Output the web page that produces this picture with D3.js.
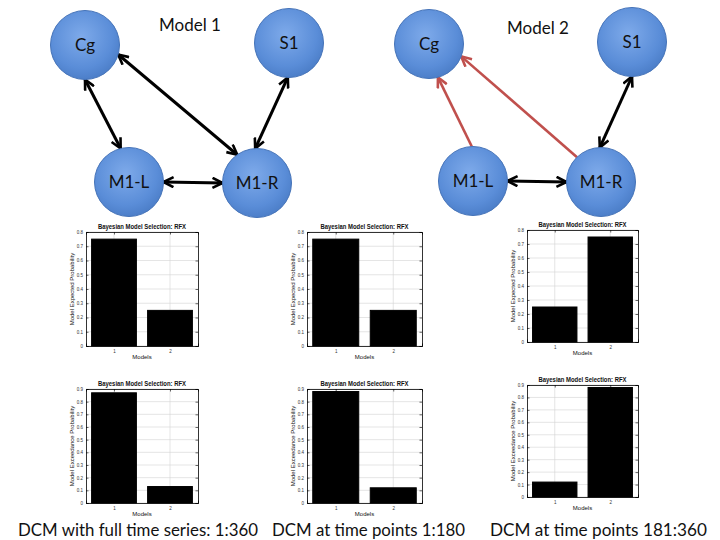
<!DOCTYPE html>
<html><head><meta charset="utf-8">
<script src="https://cdn.jsdelivr.net/npm/d3@7"></script>
<style>body{margin:0;background:#fff}svg{display:block}</style>
</head><body>
<svg id="c" width="720" height="540"></svg>
<script>
// ---------- data ----------
const modelTitles = ["Model 1", "Model 2"];
const nodeNames = ["Cg", "S1", "M1-L", "M1-R"];
// edges: [source, target, bidirectional, highlighted]
const model1Edges = [
  ["Cg", "M1-L", true, false],
  ["Cg", "M1-R", true, false],
  ["S1", "M1-R", true, false],
  ["M1-L", "M1-R", true, false]
];
const model2Edges = [
  ["M1-L", "Cg", false, true],
  ["M1-R", "Cg", false, true],
  ["S1", "M1-R", true, false],
  ["M1-L", "M1-R", true, false]
];
const models = ["1", "2"];
const expectedFull = [0.75, 0.25];
const exceedFull = [0.87, 0.13];
const expectedEarly = [0.75, 0.25];
const exceedEarly = [0.88, 0.12];
const expectedLate = [0.25, 0.75];
const exceedLate = [0.12, 0.88];
const expectedTicks = [0, 0.1, 0.2, 0.3, 0.4, 0.5, 0.6, 0.7, 0.8];
const exceedTicks = [0, 0.1, 0.2, 0.3, 0.4, 0.5, 0.6, 0.7, 0.8, 0.9];
const chartTitle = "Bayesian Model Selection: RFX";
const xLabel = "Models";
const yLabelExpected = "Model Expected Probability";
const yLabelExceed = "Model Exceedance Probability";
const captions = ["DCM with full time series: 1:360", "DCM at time points 1:180", "DCM at time points 181:360"];

// ---------- layout ----------
const svg = d3.select("#c");
const defs = svg.append("defs");
const grad = defs.append("radialGradient").attr("id", "nodeGrad")
  .attr("cx", "45%").attr("cy", "38%").attr("r", "65%");
grad.append("stop").attr("offset", "0%").attr("stop-color", "#7eaaea");
grad.append("stop").attr("offset", "70%").attr("stop-color", "#5a8dd8");
grad.append("stop").attr("offset", "100%").attr("stop-color", "#4a7cc6");

function marker(id, color) {
  defs.append("marker").attr("id", id)
    .attr("viewBox", "0 0 12 12").attr("refX", 11).attr("refY", 6)
    .attr("markerWidth", 12).attr("markerHeight", 12)
    .attr("markerUnits", "userSpaceOnUse").attr("orient", "auto-start-reverse")
    .append("path").attr("d", "M1,1 L11,6 L1,11")
    .attr("fill", "none").attr("stroke", color).attr("stroke-width", 2.6)
    .attr("stroke-linejoin", "miter");
}
marker("arrBlack", "#000");
marker("arrRed", "#c0504d");

const diagrams = [
  { title: modelTitles[0], titlePos: [190, 31], edges: model1Edges,
    pos: { "Cg": [85, 45], "S1": [289, 43], "M1-L": [129, 182], "M1-R": [257, 183] },
    ports: [[90, -104], [16, -125], [92, -93], [0, 180]] },
  { title: modelTitles[1], titlePos: [538, 34], edges: model2Edges,
    pos: { "Cg": [429, 44], "S1": [632, 42], "M1-L": [473, 181], "M1-R": [601, 182] },
    ports: [[-92, 75], [-134, 21], [90, -92], [0, 180]] }
];
const R = 34.5;

diagrams.forEach(dg => {
  svg.append("text").attr("x", dg.titlePos[0]).attr("y", dg.titlePos[1])
    .attr("text-anchor", "middle").attr("font-family", "Lato, 'Open Sans', sans-serif")
    .attr("font-size", 17).attr("fill", "#111").text(dg.title);
  dg.edges.forEach((e, i) => {
    const s = dg.pos[e[0]], t = dg.pos[e[1]];
    const a1 = dg.ports[i][0] * Math.PI / 180, a2 = dg.ports[i][1] * Math.PI / 180;
    const p1 = [s[0] + R * Math.cos(a1), s[1] + R * Math.sin(a1)];
    const p2 = [t[0] + R * Math.cos(a2), t[1] + R * Math.sin(a2)];
    const col = e[3] ? "#c0504d" : "#000";
    const m = e[3] ? "url(#arrRed)" : "url(#arrBlack)";
    const ln = svg.append("line").attr("x1", p1[0]).attr("y1", p1[1])
      .attr("x2", p2[0]).attr("y2", p2[1])
      .attr("stroke", col).attr("stroke-width", e[3] ? 2.6 : 3)
      .attr("marker-end", m);
    if (e[2]) ln.attr("marker-start", m);
  });
  nodeNames.forEach(n => {
    const p = dg.pos[n];
    svg.append("circle").attr("cx", p[0]).attr("cy", p[1]).attr("r", R)
      .attr("fill", "url(#nodeGrad)").attr("stroke", "#4573b8").attr("stroke-width", 1);
    svg.append("text").attr("x", p[0]).attr("y", p[1] + 6)
      .attr("text-anchor", "middle").attr("font-family", "Lato, 'Open Sans', sans-serif")
      .attr("font-size", 17).attr("fill", "#111").text(n);
  });
});

// ---------- bar charts ----------
const panels = [
  { x0: 86, x1: 198, y0: 232, y1: 346, vals: expectedFull, ticks: expectedTicks, yl: yLabelExpected },
  { x0: 86, x1: 198, y0: 389, y1: 503, vals: exceedFull, ticks: exceedTicks, yl: yLabelExceed },
  { x0: 307, x1: 422, y0: 232, y1: 346, vals: expectedEarly, ticks: expectedTicks, yl: yLabelExpected },
  { x0: 307, x1: 422, y0: 389, y1: 503, vals: exceedEarly, ticks: exceedTicks, yl: yLabelExceed },
  { x0: 527, x1: 638, y0: 230, y1: 342, vals: expectedLate, ticks: expectedTicks, yl: yLabelExpected },
  { x0: 527, x1: 638, y0: 385, y1: 497, vals: exceedLate, ticks: exceedTicks, yl: yLabelExceed }
];
const fontSmall = "'Liberation Sans', Arial, sans-serif";

panels.forEach(p => {
  const g = svg.append("g");
  const x = d3.scaleLinear().domain([0.5, 2.5]).range([p.x0, p.x1]);
  const y = d3.scaleLinear().domain([0, d3.max(p.ticks)]).range([p.y1, p.y0]);
  const bw = x(1.4) - x(1);
  g.selectAll(".gy").data(p.ticks).join("line")
    .attr("x1", p.x0).attr("x2", p.x1).attr("y1", d => y(d)).attr("y2", d => y(d))
    .attr("stroke", "#d4d4d4").attr("stroke-width", 0.6);
  g.selectAll(".gx").data(models).join("line")
    .attr("x1", d => x(+d)).attr("x2", d => x(+d)).attr("y1", p.y0).attr("y2", p.y1)
    .attr("stroke", "#d4d4d4").attr("stroke-width", 0.6);
  g.selectAll(".bar").data(p.vals).join("rect")
    .attr("x", (d, i) => x(+models[i]) - bw).attr("width", 2 * bw)
    .attr("y", d => y(d)).attr("height", d => y(0) - y(d))
    .attr("fill", "#000").attr("stroke", "#000");
  const yAxL = d3.axisLeft(y).tickValues(p.ticks).tickSize(-2.5).tickPadding(3)
    .tickFormat(d => d === 0 ? "0" : d3.format(".1f")(d));
  const gy = g.append("g").attr("transform", `translate(${p.x0},0)`).call(yAxL);
  gy.selectAll("text").attr("font-size", 4.5).attr("font-family", fontSmall).attr("fill", "#333");
  g.append("g").attr("transform", `translate(${p.x1},0)`)
    .call(d3.axisRight(y).tickValues(p.ticks).tickSize(-2.5).tickFormat(""));
  const gx = g.append("g").attr("transform", `translate(0,${p.y1})`)
    .call(d3.axisBottom(x).tickValues(models.map(Number)).tickSize(-2.5).tickPadding(4).tickFormat(d3.format("d")));
  gx.selectAll("text").attr("font-size", 4.5).attr("font-family", fontSmall).attr("fill", "#333");
  g.append("g").attr("transform", `translate(0,${p.y0})`)
    .call(d3.axisTop(x).tickValues(models.map(Number)).tickSize(-2.5).tickFormat(""));
  g.selectAll(".domain").attr("stroke", "#000").attr("stroke-width", 0.8);
  g.selectAll(".tick line").attr("stroke", "#000").attr("stroke-width", 0.6);
  g.append("text").attr("x", (p.x0 + p.x1) / 2).attr("y", p.y0 - 3)
    .attr("text-anchor", "middle").attr("font-family", fontSmall).attr("font-weight", "bold")
    .attr("font-size", 6.5).attr("fill", "#111")
    .attr("textLength", 88).attr("lengthAdjust", "spacingAndGlyphs").text(chartTitle);
  g.append("text").attr("x", (p.x0 + p.x1) / 2).attr("y", p.y1 + 13)
    .attr("text-anchor", "middle").attr("font-family", fontSmall)
    .attr("font-size", 6).attr("fill", "#111").text(xLabel);
  g.append("text").attr("transform", `translate(${p.x0 - 12},${(p.y0 + p.y1) / 2}) rotate(-90)`)
    .attr("text-anchor", "middle").attr("font-family", fontSmall)
    .attr("font-size", 6).attr("fill", "#111").text(p.yl);
});

// ---------- captions ----------
const capX = [18, 272, 490];
const capW = [240, 193, 217];
captions.forEach((c, i) => {
  svg.append("text").attr("x", capX[i]).attr("y", 536).attr("text-anchor", "start")
    .attr("font-family", "Lato, 'Open Sans', sans-serif").attr("font-size", 18)
    .attr("fill", "#111")
    .attr("textLength", capW[i]).attr("lengthAdjust", "spacingAndGlyphs").text(c);
});
</script>
</body></html>
